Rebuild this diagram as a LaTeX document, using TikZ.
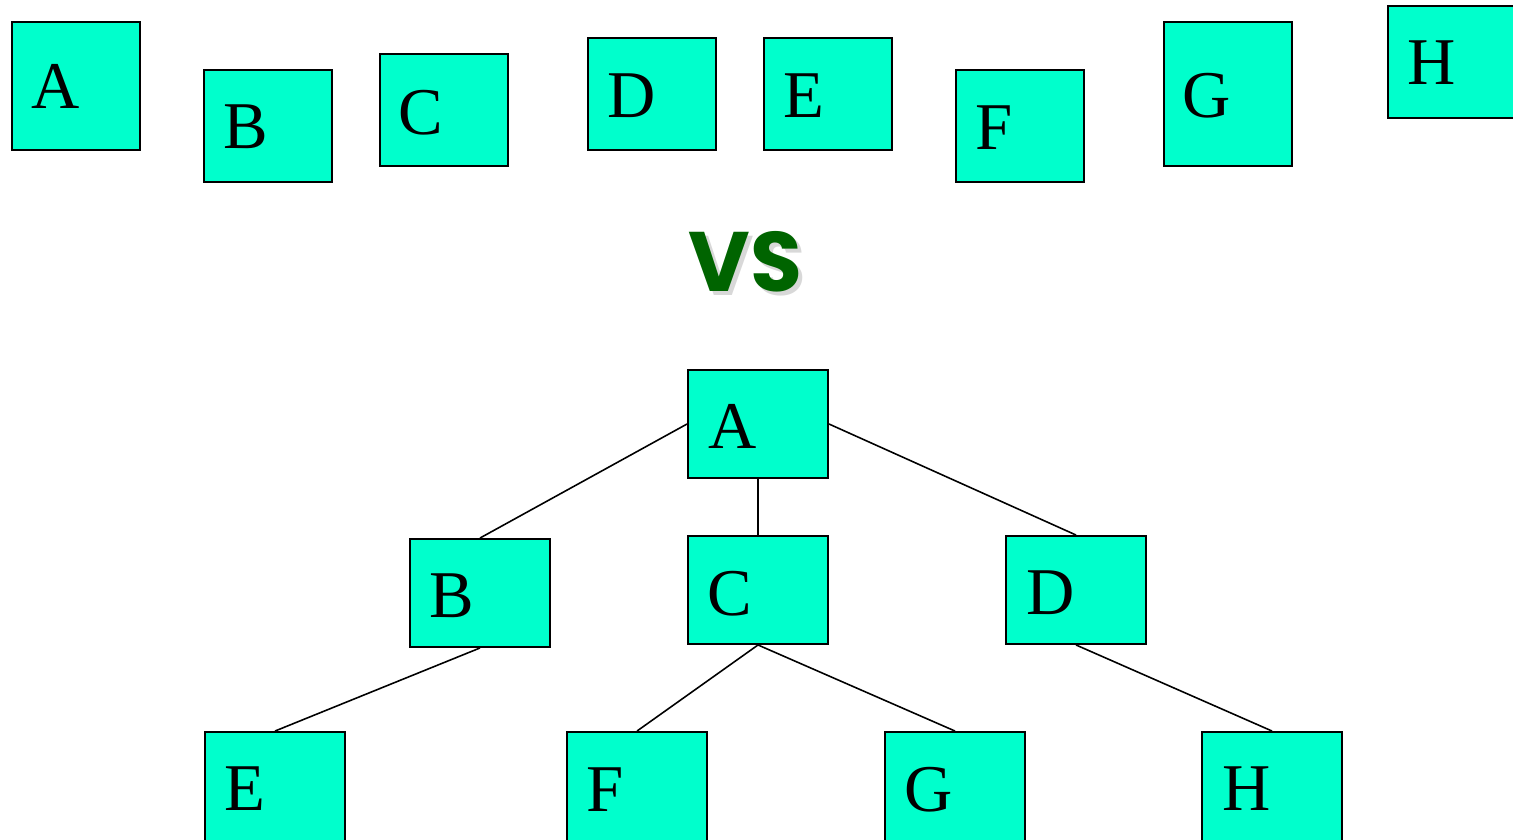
\documentclass[tikz,border=0pt]{standalone}
\usepackage{fontspec}
\setmainfont{Liberation Serif}
\newfontfamily\vsfont{Poppins}
\usetikzlibrary{fit}
\definecolor{boxfill}{RGB}{0,255,204}
\definecolor{vsgreen}{RGB}{0,100,0}
\begin{document}
\begin{tikzpicture}[x=0.01cm,y=-0.01cm,
  box/.style={draw=black, line width=0.55pt, fill=boxfill, inner sep=0pt},
  lbl/.style={anchor=base west, inner sep=0pt, font=\fontsize{19}{19}\selectfont},
  edge/.style={line width=0.45pt, draw=black},
  vs/.style={inner sep=0pt, anchor=base west, font=\vsfont\bfseries\fontsize{24}{24}\selectfont}]
\useasboundingbox (0,0) rectangle (1513,840);
% top row
\node[box, fit={(12,22) (140,150)}] (tA) {};
\node[box, fit={(204,70) (332,182)}] (tB) {};
\node[box, fit={(380,54) (508,166)}] (tC) {};
\node[box, fit={(588,38) (716,150)}] (tD) {};
\node[box, fit={(764,38) (892,150)}] (tE) {};
\node[box, fit={(956,70) (1084,182)}] (tF) {};
\node[box, fit={(1164,22) (1292,166)}] (tG) {};
\node[box, fit={(1388,6) (1530,118)}] (tH) {};
\node[lbl] (ltA) at (31,109) {A};
\node[lbl] (ltB) at (223,149) {B};
\node[lbl] (ltC) at (398,135) {C};
\node[lbl] (ltD) at (607,118) {D};
\node[lbl] (ltE) at (783,118) {E};
\node[lbl] (ltF) at (975,150) {F};
\node[lbl] (ltG) at (1182,118) {G};
\node[lbl] (ltH) at (1407,85) {H};
% VS
\node[vs, text=black!30, opacity=0.5] (vsshadow) at (692,295) {VS};
\node[vs, text=vsgreen] (vs) at (688,292) {VS};
% tree
\node[box, fit={(688,370) (828,478)}] (A) {};
\node[box, fit={(410,539) (550,647)}] (B) {};
\node[box, fit={(688,536) (828,644)}] (C) {};
\node[box, fit={(1006,536) (1146,644)}] (D) {};
\node[box, fit={(205,732) (345,860)}] (E) {};
\node[box, fit={(567,732) (707,860)}] (F) {};
\node[box, fit={(885,732) (1025,860)}] (G) {};
\node[box, fit={(1202,732) (1342,860)}] (H) {};
\draw[edge] (A.west) -- (B.north);
\draw[edge] (A.south) -- (C.north);
\draw[edge] (A.east) -- (D.north);
\draw[edge] (B.south) -- (E.north);
\draw[edge] (C.south) -- (F.north);
\draw[edge] (C.south) -- (G.north);
\draw[edge] (D.south) -- (H.north);
\node[lbl] (lA) at (708,448) {A};
\node[lbl] (lB) at (429,617) {B};
\node[lbl] (lC) at (707,615) {C};
\node[lbl] (lD) at (1026,614) {D};
\node[lbl] (lE) at (224,810) {E};
\node[lbl] (lF) at (586,811) {F};
\node[lbl] (lG) at (904,811) {G};
\node[lbl] (lH) at (1222,810) {H};
\end{tikzpicture}
\end{document}
